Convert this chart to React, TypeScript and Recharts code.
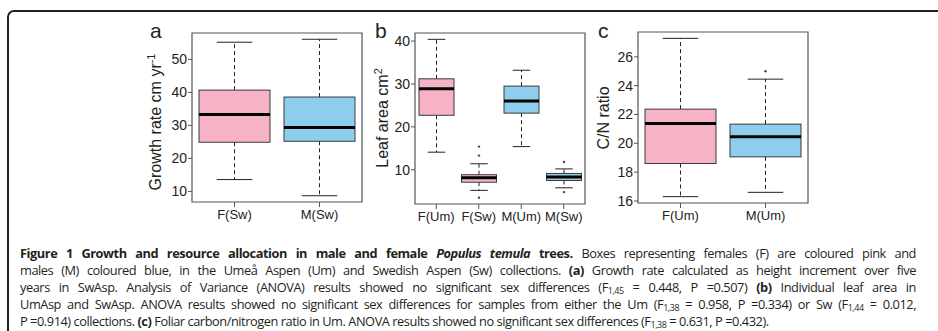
import React from "react";
import { ComposedChart, Bar, XAxis, YAxis, ReferenceArea } from "recharts";

// (a) growth rate, SwAsp collection
const growthGroups = ["F(Sw)", "M(Sw)"];
const growthLow = [13.6, 8.7];
const growthQ1 = [24.9, 25.2];
const growthMedian = [33.3, 29.4];
const growthQ3 = [40.7, 38.6];
const growthHigh = [55.2, 56.1];
const growthOutliers: number[][] = [[], []];
const growthTicks = [10, 20, 30, 40, 50];

// (b) leaf area, both collections
const leafGroups = ["F(Um)", "F(Sw)", "M(Um)", "M(Sw)"];
const leafLow = [14.1, 5.2, 15.4, 5.8];
const leafQ1 = [22.7, 7.1, 23.2, 7.5];
const leafMedian = [28.9, 8.15, 26.0, 8.3];
const leafQ3 = [31.2, 8.85, 29.5, 9.15];
const leafHigh = [40.4, 11.4, 33.2, 10.2];
const leafOutliers: number[][] = [[], [15.4, 13.3, 3.5], [], [11.8, 4.8]];
const leafTicks = [10, 20, 30, 40];

// (c) C/N ratio, UmAsp collection
const cnGroups = ["F(Um)", "M(Um)"];
const cnLow = [16.3, 16.6];
const cnQ1 = [18.6, 19.06];
const cnMedian = [21.38, 20.45];
const cnQ3 = [22.37, 21.33];
const cnHigh = [27.28, 24.45];
const cnOutliers: number[][] = [[], [25.0]];
const cnTicks = [16, 18, 20, 22, 24, 26];

const PINK = "#F6B3C6";
const BLUE = "#8ECDEE";
const INK = "#222222";
const FRAME = "#555555";
const FONT = '"Liberation Sans", Arial, Helvetica, sans-serif';

type BoxRow = {
  name: string;
  low: number;
  q1: number;
  median: number;
  q3: number;
  high: number;
  outliers: number[];
};

function buildRows(
  groups: string[],
  low: number[],
  q1: number[],
  median: number[],
  q3: number[],
  high: number[],
  outliers: number[][]
): BoxRow[] {
  return groups.map((name, i) => ({
    name,
    low: low[i],
    q1: q1[i],
    median: median[i],
    q3: q3[i],
    high: high[i],
    outliers: outliers[i],
  }));
}

// R-style axis range: data extent plus 4% on each side
function domainFor(rows: BoxRow[]): [number, number] {
  const vals = rows.flatMap((r) => [r.low, r.high, ...r.outliers]);
  const lo = Math.min(...vals);
  const hi = Math.max(...vals);
  const pad = (hi - lo) * 0.04;
  return [lo - pad, hi + pad];
}

// The bar spans low..high whisker; everything else is placed on the same scale
function BoxShape(props: any) {
  const { x, y, width, height, payload } = props;
  const d = payload as BoxRow;
  const top = Math.min(y, y + height);
  const bottom = Math.max(y, y + height);
  const py = (v: number) => bottom - ((v - d.low) / (d.high - d.low)) * (bottom - top);
  const cx = x + width / 2;
  const cap = width / 4;
  const fill = d.name.startsWith("F") ? PINK : BLUE;
  return (
    <g>
      <line x1={cx} x2={cx} y1={py(d.q3)} y2={py(d.high)} stroke={INK} strokeDasharray="4 3" />
      <line x1={cx} x2={cx} y1={py(d.q1)} y2={py(d.low)} stroke={INK} strokeDasharray="4 3" />
      <line x1={cx - cap} x2={cx + cap} y1={py(d.high)} y2={py(d.high)} stroke={INK} />
      <line x1={cx - cap} x2={cx + cap} y1={py(d.low)} y2={py(d.low)} stroke={INK} />
      <rect
        x={x}
        y={py(d.q3)}
        width={width}
        height={py(d.q1) - py(d.q3)}
        fill={fill}
        stroke="#3a3a3a"
        strokeWidth={1}
      />
      <line x1={x} x2={x + width} y1={py(d.median)} y2={py(d.median)} stroke="#000" strokeWidth={3} />
      {d.outliers.map((o, i) => (
        <circle key={i} cx={cx} cy={py(o)} r={1.2} fill="#444" />
      ))}
    </g>
  );
}

type PanelProps = {
  rows: BoxRow[];
  ticks: number[];
  left: number;
  width: number;
  top: number;
  right: number;
  bottom: number;
  axisWidth: number;
  boxSize: number;
};

function BoxPanel({ rows, ticks, left, width, top, right, bottom, axisWidth, boxSize }: PanelProps) {
  const domain = domainFor(rows);
  return (
    <div style={{ position: "absolute", left, top: 0 }}>
      <ComposedChart
        width={width}
        height={240}
        data={rows}
        margin={{ top, right, bottom, left: 0 }}
      >
        <XAxis
          dataKey="name"
          type="category"
          height={30}
          interval={0}
          axisLine={false}
          tickSize={5}
          tickMargin={3}
          tickLine={{ stroke: FRAME }}
          tick={{ fontSize: 13, fill: INK }}
        />
        <YAxis
          type="number"
          domain={domain}
          ticks={ticks}
          allowDataOverflow
          width={axisWidth}
          axisLine={false}
          tickSize={4}
          tickMargin={1}
          tickLine={{ stroke: FRAME }}
          tick={{ fontSize: 14, fill: INK }}
        />
        <ReferenceArea
          y1={domain[0]}
          y2={domain[1]}
          fill="none"
          stroke={FRAME}
          strokeWidth={1.2}
          ifOverflow="visible"
        />
        <Bar
          dataKey={(d: BoxRow) => [d.low, d.high]}
          barSize={boxSize}
          shape={<BoxShape />}
          isAnimationActive={false}
        />
      </ComposedChart>
    </div>
  );
}

function PanelLetter({ text, left }: { text: string; left: number }) {
  return (
    <div
      style={{
        position: "absolute",
        left,
        top: 20,
        fontSize: 21,
        lineHeight: 1,
        color: INK,
      }}
    >
      {text}
    </div>
  );
}

function AxisTitle({ cx, cy, children }: { cx: number; cy: number; children: React.ReactNode }) {
  return (
    <div
      style={{
        position: "absolute",
        left: cx,
        top: cy,
        transform: "translate(-50%, -50%) rotate(-90deg)",
        whiteSpace: "nowrap",
        fontSize: 16,
        lineHeight: 1,
        color: INK,
      }}
    >
      {children}
    </div>
  );
}

const supStyle: React.CSSProperties = { fontSize: "0.68em", verticalAlign: "0.55em" };
const subStyle: React.CSSProperties = { fontSize: "0.7em", verticalAlign: "-0.25em", lineHeight: 0 };

const lineStyle: React.CSSProperties = {
  position: "absolute",
  left: 20,
  width: 896,
  whiteSpace: "nowrap",
  fontSize: 12.8,
  letterSpacing: -0.45,
  lineHeight: "17px",
  color: "#231F20",
  fontFamily: '"Open Sans", sans-serif',
};

function Caption() {
  const F = (sub: string) => (
    <>
      F<span style={subStyle}>{sub}</span>
    </>
  );
  return (
    <>
      <div style={{ ...lineStyle, top: 245, textAlignLast: "justify" }}>
        <b>
          Figure 1 Growth and resource allocation in male and female <i>Populus temula</i> trees.
        </b>{" "}
        Boxes representing females (F) are coloured pink and
      </div>
      <div style={{ ...lineStyle, top: 262, textAlignLast: "justify" }}>
        males (M) coloured blue, in the Umeå Aspen (Um) and Swedish Aspen (Sw) collections. <b>(a)</b> Growth
        rate calculated as height increment over five
      </div>
      <div style={{ ...lineStyle, top: 279, textAlignLast: "justify" }}>
        years in SwAsp. Analysis of Variance (ANOVA) results showed no significant sex differences ({F("1,45")} =
        0.448, P =0.507) <b>(b)</b> Individual leaf area in
      </div>
      <div style={{ ...lineStyle, top: 296, textAlignLast: "justify" }}>
        UmAsp and SwAsp. ANOVA results showed no significant sex differences for samples from either the Um (
        {F("1,38")} = 0.958, P =0.334) or Sw ({F("1,44")} = 0.012,
      </div>
      <div style={{ ...lineStyle, top: 313 }}>
        P =0.914) collections. <b>(c)</b> Foliar carbon/nitrogen ratio in Um. ANOVA results showed no significant
        sex differences ({F("1,38")} = 0.631, P =0.432).
      </div>
    </>
  );
}

export default function App() {
  const growthRows = buildRows(growthGroups, growthLow, growthQ1, growthMedian, growthQ3, growthHigh, growthOutliers);
  const leafRows = buildRows(leafGroups, leafLow, leafQ1, leafMedian, leafQ3, leafHigh, leafOutliers);
  const cnRows = buildRows(cnGroups, cnLow, cnQ1, cnMedian, cnQ3, cnHigh, cnOutliers);

  return (
    <div
      style={{
        position: "absolute",
        left: 0,
        top: 0,
        width: 938,
        height: 331,
        overflow: "hidden",
        background: "#fff",
        fontFamily: FONT,
      }}
    >
      <div
        style={{
          position: "absolute",
          left: 7,
          top: 10,
          width: 1000,
          height: 400,
          border: "2px solid #222",
          borderRadius: 7,
        }}
      />

      <BoxPanel rows={growthRows} ticks={growthTicks} left={130} width={240} top={33} right={8} bottom={8} axisWidth={62} boxSize={71} />
      <BoxPanel rows={leafRows} ticks={leafTicks} left={370} width={230} top={33} right={15} bottom={6} axisWidth={45} boxSize={35} />
      <BoxPanel rows={cnRows} ticks={cnTicks} left={610} width={210} top={32} right={12} bottom={7} axisWidth={28} boxSize={71} />

      <PanelLetter text="a" left={150} />
      <PanelLetter text="b" left={375} />
      <PanelLetter text="c" left={598} />

      <AxisTitle cx={155} cy={122}>
        Growth rate cm yr<span style={supStyle}>-1</span>
      </AxisTitle>
      <AxisTitle cx={382} cy={118}>
        Leaf area cm<span style={supStyle}>2</span>
      </AxisTitle>
      <AxisTitle cx={604} cy={118}>
        C/N ratio
      </AxisTitle>

      <Caption />
    </div>
  );
}
